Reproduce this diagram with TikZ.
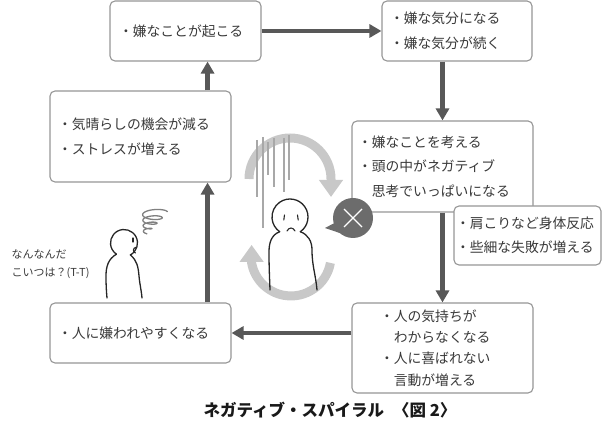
\documentclass[tikz,border=0pt]{standalone}
\usepackage{fontspec}
\setmainfont{Noto Sans CJK JP}
\usepackage{xcolor}
\usetikzlibrary{arrows.meta, calc, positioning}
\definecolor{boxgray}{RGB}{150,150,150}
\definecolor{arrowgray}{RGB}{88,88,88}
\definecolor{spingray}{RGB}{200,200,200}
\definecolor{raingray}{RGB}{168,168,168}
\definecolor{bubblegray}{RGB}{108,108,108}
\definecolor{inkgray}{RGB}{58,58,58}

\begin{document}
\begin{tikzpicture}[x=1pt, y=1pt, >=Stealth,
    box/.style={draw=boxgray, line width=1.1pt, rounded corners=5pt, fill=white,
        text=inkgray, align=left, inner ysep=0pt, font=\fontsize{13.8}{24.5}\selectfont},
    flow/.style={-{Triangle[width=13pt,length=12pt]}, line width=4.2pt, arrowgray},
    spin/.style={-{Triangle[width=23pt,length=17pt]}, line width=9pt, spingray},
    stick/.style={line width=1.3pt, black!85, line cap=round}]
    \useasboundingbox (0,0) rectangle (604,428);

    % Boxes of the cycle
    \node[box, text width=133pt, inner xsep=9pt, minimum height=60pt] (event) at (185.5,397) {・嫌なことが起こる};
    \node[box, text width=134pt, inner xsep=8pt, minimum height=60pt] (mood) at (457,397) {・嫌な気分になる\\・嫌な気分が続く};
    \node[box, text width=169pt, inner xsep=6pt, minimum height=91pt] (think) at (442.5,261.5) {・嫌なことを考える\\・頭の中がネガティブ\\　思考でいっぱいになる};
    \node[box, text width=143pt, inner xsep=2pt, minimum height=59pt] (body) at (527.5,192.5) {・肩こりなど身体反応\\・些細な失敗が増える};
    \node[box, text width=125pt, inner xsep=28pt, minimum height=90pt, font=\fontsize{13.8}{21.3}\selectfont] (notice) at (442.5,80) {・人の気持ちが\\　わからなくなる\\・人に喜ばれない\\　言動が増える};
    \node[box, text width=165pt, inner xsep=8pt, minimum height=60pt] (disliked) at (140.5,95) {・人に嫌われやすくなる};
    \node[box, text width=165pt, inner xsep=8pt, minimum height=91pt] (stress) at (140.5,291.5) {・気晴らしの機会が減る\\・ストレスが増える};

    % Arrows between boxes
    \draw[flow] (event) -- (mood);
    \draw[flow] (mood.south -| think.north) -- (think.north);
    \draw[flow] (think.south) -- (notice.north);
    \draw[flow] (notice.west |- disliked.east) -- (disliked.east);
    \draw[flow] ([xshift=-24pt]disliked.north east) -- ([xshift=-24pt]stress.south east);
    \draw[flow] ([xshift=-24pt]stress.north east) -- ([xshift=-24pt]stress.north east |- event.south);

    % Circling arrows
    \draw[spin] (249,249) arc[start angle=180, end angle=0, radius=41] -- ++(0,-18);
    \draw[spin] (330.4,165.1) arc[start angle=-10, end angle=-170, radius=40] -- ++(0,18);

    % Gloom lines
    \draw[raingray, line width=1.4pt] (257,288) -- (257,231);
    \draw[raingray, line width=1.4pt] (263,291) -- (263,200);
    \draw[raingray, line width=1.4pt] (268,286) -- (268,253);
    \draw[raingray, line width=1.4pt] (274,290) -- (274,241);
    \draw[raingray, line width=1.4pt] (284,290) -- (284,236);
    \draw[raingray, line width=1.4pt] (289,293) -- (289,248);

    % Sad person
    \coordinate (sadhead) at (290,211);
    \draw[stick] ($(sadhead)+(-55:18)$) arc[start angle=-55, end angle=235, radius=18];
    \draw[stick] ($(sadhead)+(235:18)$) to[out=200,in=90] (269,176) to[out=-90,in=92] (270,138);
    \draw[stick] ($(sadhead)+(-55:18)$) to[out=-20,in=90] (312,178) to[out=-90,in=95] (317,138);
    \draw[stick, line width=1.1pt] (284.5,213) -- (283.8,208);
    \draw[stick, line width=1.1pt] (297.5,213) -- (298.2,208);
    \draw[stick, line width=1.1pt] (287,197) .. controls (289,201) and (293,201) .. (295,197);

    % Speech bubble
    \coordinate (bub) at (353,210);
    \fill[bubblegray] ($(bub)+(195:19)$) -- (325,200) -- ($(bub)+(238:19)$) -- cycle;
    \fill[bubblegray] (bub) circle[radius=20];
    \draw[white, line width=1.2pt] ($(bub)+(-9,-9)$) -- ($(bub)+(9,9)$);
    \draw[white, line width=1.2pt] ($(bub)+(-9,9)$) -- ($(bub)+(9,-9)$);

    % Puzzled person
    \coordinate (puzhead) at (124,185);
    \draw[stick] ($(puzhead)+(-62:13.5)$) arc[start angle=-62, end angle=236, radius=13.5];
    \draw[stick] ($(puzhead)+(236:13.5)$) to[out=210,in=90] (106,152) to[out=-90,in=95] (107,130);
    \draw[stick] ($(puzhead)+(-62:13.5)$) to[out=-40,in=95] (139,152) to[out=-85,in=95] (142,130);
    \draw[stick, line width=1.1pt] (133,190) -- (133,186);
    \draw[stick, line width=1.1pt] (136.5,181) .. controls (132.5,180) and (132.5,176) .. (135.5,175);
    \draw[gray, line width=1.3pt] plot[domain=0:1, samples=160, smooth]
        ({155-10*\x+(11*(1-\x)+1.5)*cos(1440*\x)}, {216-22*\x+0.32*(11*(1-\x)+1.5)*sin(1440*\x)});
    \node[anchor=west, align=left, text=inkgray, font=\fontsize{11}{17.5}\selectfont] (mutter) at (8,164) {なんなんだ\\こいつは？(T-T)};

    % Caption
    \node[font=\fontsize{16.5}{18}\selectfont\bfseries, text=black!90] (caption) at (330,18) {ネガティブ・スパイラル\hspace{9pt}〈図 2〉};
\end{tikzpicture}
\end{document}
